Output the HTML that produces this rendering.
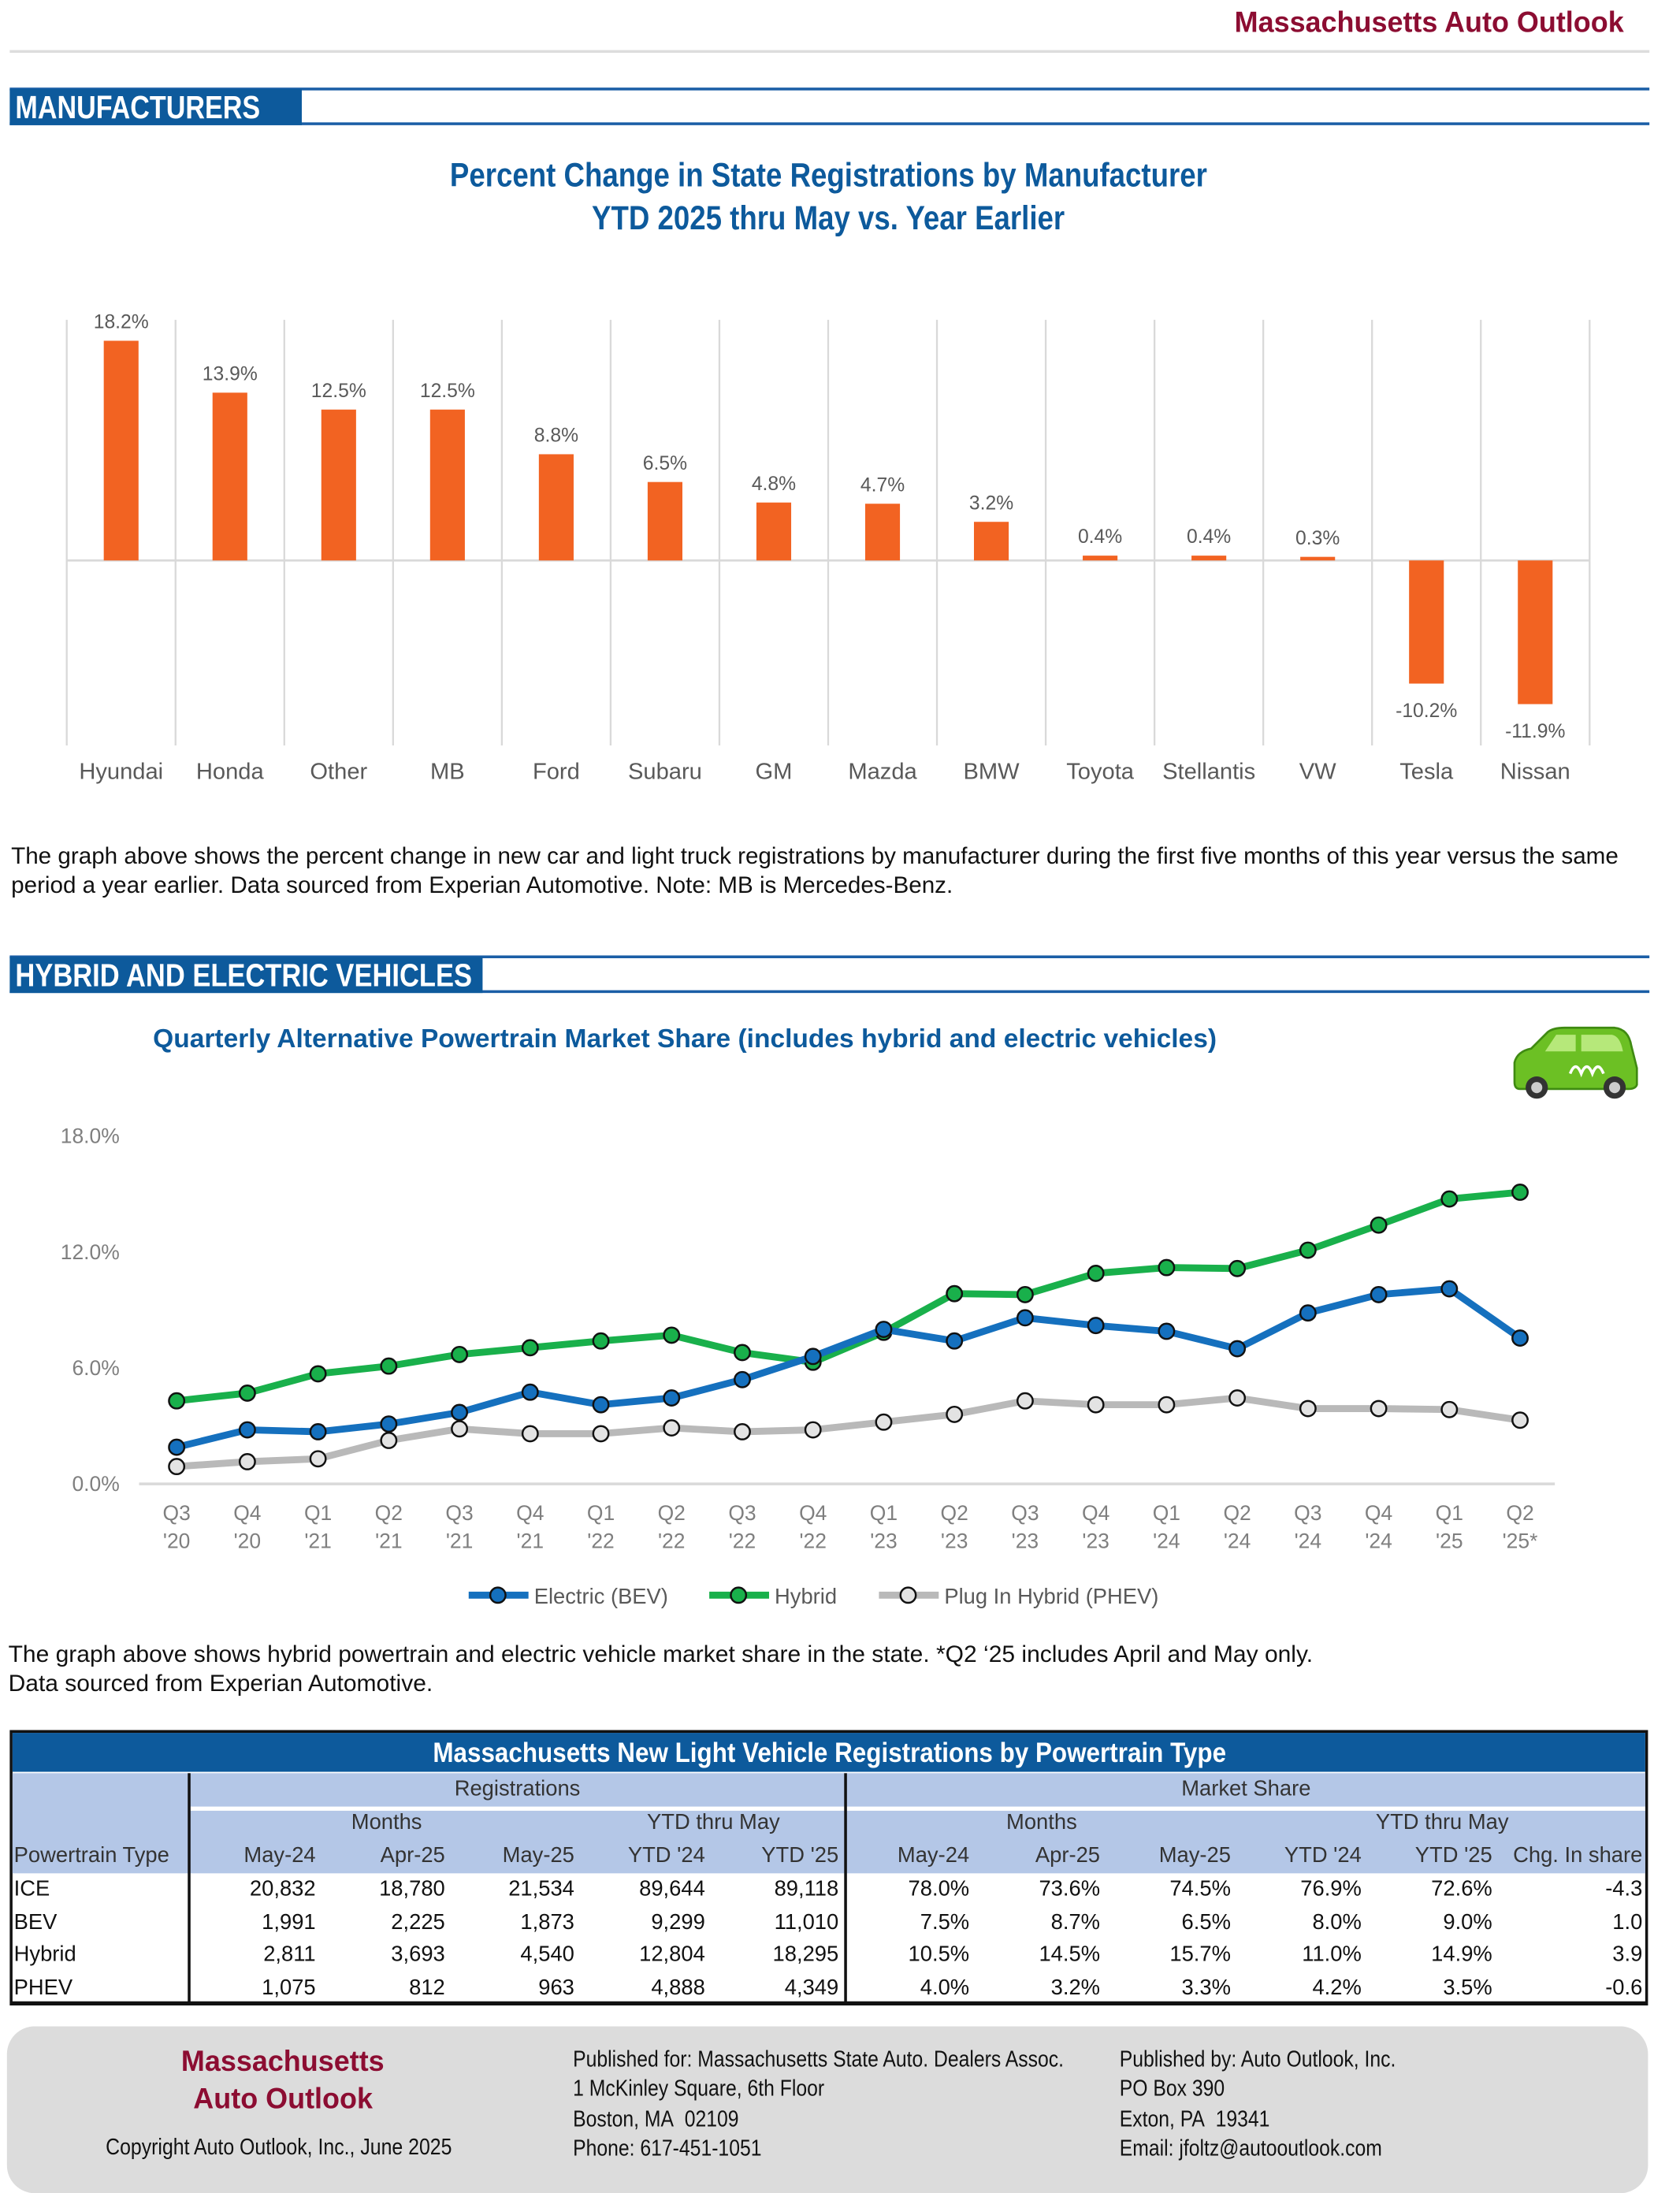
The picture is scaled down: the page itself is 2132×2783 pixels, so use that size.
<!DOCTYPE html>
<html><head><meta charset="utf-8">
<style>
html,body{margin:0;padding:0;background:#fff;overflow:hidden;}
body{width:2132px;height:2721px;}
#wrap{position:absolute;left:0;top:0;width:1208px;height:1542px;transform:scale(1.76490);transform-origin:0 0;font-family:"Liberation Sans",sans-serif;}
.abs{position:absolute;}
.cond{font-family:"Liberation Sans",sans-serif;font-weight:bold;white-space:nowrap;}
.sx{display:inline-block;transform:scaleX(0.78);transform-origin:0 0;white-space:nowrap;}
.sxc{display:inline-block;transform:scaleX(0.78);transform-origin:50% 0;white-space:nowrap;}
.sxr{display:inline-block;transform:scaleX(0.78);transform-origin:100% 0;white-space:nowrap;}
.p{font-size:15.3px;color:#111;line-height:21px;}
</style></head><body>
<div id="wrap">
<div class="abs cond" style="right:40px;top:5px;font-size:21px;color:#8c0d32;"><span class="sxr" style="transform:scaleX(0.97);">Massachusetts Auto Outlook</span></div>
<div class="abs" style="left:7px;top:36px;width:1179px;height:2px;background:#ddd;"></div>

<div class="abs" style="left:7px;top:63px;width:1179px;height:2px;background:#1a5ea6;"></div>
<div class="abs" style="left:7px;top:88px;width:1179px;height:2px;background:#1a5ea6;"></div>
<div class="abs cond" style="left:7px;top:64px;width:210px;height:26px;background:#0d5a9c;color:#fff;font-size:23px;line-height:27px;padding-left:4px;box-sizing:border-box;overflow:hidden;"><span class="sx" style="transform:scaleX(0.84);">MANUFACTURERS</span></div>

<div class="abs cond" style="left:0;top:111px;width:1192px;text-align:center;font-size:24px;line-height:31px;color:#0d5a9c;"><span class="sxc" style="transform:scaleX(0.865);">Percent Change in State Registrations by Manufacturer</span><br><span class="sxc" style="transform:scaleX(0.865);">YTD 2025 thru May vs. Year Earlier</span></div>

<svg class="abs" id="bar" style="left:0;top:0;" width="1208" height="600"></svg>

<div class="abs p" style="left:8px;top:605px;width:1195px;font-size:16.8px;">The graph above shows the percent change in new car and light truck registrations by manufacturer during the first five months of this year versus the same period a year earlier. Data sourced from Experian Automotive. Note: MB is Mercedes-Benz.</div>

<div class="abs" style="left:7px;top:687px;width:1179px;height:2px;background:#1a5ea6;"></div>
<div class="abs" style="left:7px;top:712px;width:1179px;height:2px;background:#1a5ea6;"></div>
<div class="abs cond" style="left:7px;top:688px;width:340px;height:26px;background:#0d5a9c;color:#fff;font-size:23px;line-height:27px;padding-left:4px;box-sizing:border-box;overflow:hidden;"><span class="sx" style="transform:scaleX(0.85);">HYBRID AND ELECTRIC VEHICLES</span></div>

<div class="abs cond" style="left:110px;top:737px;font-size:19px;color:#0d5a9c;"><span class="sx" style="transform:scaleX(1.0);">Quarterly Alternative Powertrain Market Share (includes hybrid and electric vehicles)</span></div>

<svg class="abs" style="left:1083px;top:738px;" width="97" height="54" viewBox="0 0 97 54">
<path d="M6 40 L6 26 Q8 18 18 16 L30 4 Q34 1 42 1 L78 1 Q88 2 90 14 L94 30 L94 42 Q93 45 88 45 L10 45 Q6 45 6 40Z" fill="#6cc024" stroke="#3f8a12" stroke-width="1.5"/>
<path d="M36 6 L50 6 L50 18 L28 18Z M54 6 L76 6 Q82 7 84 18 L54 18Z" fill="#b6e87a"/>
<path d="M46 34 q4 -10 8 0 q4 -10 8 0 q4 -10 8 0" fill="none" stroke="#fff" stroke-width="2"/>
<circle cx="22" cy="44" r="8" fill="#333"/><circle cx="22" cy="44" r="4" fill="#ccc"/>
<circle cx="78" cy="44" r="8" fill="#333"/><circle cx="78" cy="44" r="4" fill="#ccc"/>
</svg>

<svg class="abs" id="line" style="left:0;top:0;" width="1208" height="1170"></svg>

<div class="abs p" style="left:6px;top:1179px;font-size:17px;">The graph above shows hybrid powertrain and electric vehicle market share in the state. *Q2 ‘25 includes April and May only.<br>Data sourced from Experian Automotive.</div>

<div class="abs" style="left:7px;top:1244px;width:1178px;height:198px;border:2px solid #111;border-bottom:3px solid #111;box-sizing:border-box;">
<div class="abs cond" style="left:0;top:0;width:1174px;height:28px;background:#0d5a9c;color:#fff;text-align:center;font-size:20px;line-height:30px;"><span class="sxc" style="transform:scaleX(0.89);">Massachusetts New Light Vehicle Registrations by Powertrain Type</span></div>
<div class="abs" style="left:0;top:29px;width:1174px;height:72px;background:#b4c7e7;"></div>
<div class="abs" style="left:128px;top:53px;width:1046px;height:3px;background:#fff;"></div>
<div class="abs" style="left:126px;top:29px;width:2px;height:165px;background:#111;"></div>
<div class="abs" style="left:598px;top:29px;width:2px;height:165px;background:#111;"></div>
<div id="tbl"></div>
</div>

<div class="abs" style="left:5px;top:1457px;width:1180px;height:120px;background:#dcdcdc;border-radius:20px;"></div>
<div class="abs cond" style="left:103px;top:1469px;width:200px;text-align:center;font-size:21px;line-height:27px;color:#8c0d32;"><span class="sxc" style="transform:scaleX(0.97);">Massachusetts</span><br><span class="sxc" style="transform:scaleX(0.97);">Auto Outlook</span></div>
<div class="abs" style="left:76px;top:1536px;font-size:16px;color:#111;"><span class="sx" style="transform:scaleX(0.88);">Copyright Auto Outlook, Inc., June 2025</span></div>
<div class="abs" style="left:412px;top:1471px;font-size:16px;line-height:21.3px;color:#111;"><span class="sx" style="transform:scaleX(0.876);">Published for: Massachusetts State Auto. Dealers Assoc.<br>1 McKinley Square, 6th Floor<br>Boston, MA&nbsp; 02109<br>Phone: 617-451-1051</span></div>
<div class="abs" style="left:805px;top:1471px;font-size:16px;line-height:21.3px;color:#111;"><span class="sx" style="transform:scaleX(0.876);">Published by: Auto Outlook, Inc.<br>PO Box 390<br>Exton, PA&nbsp; 19341<br>Email: jfoltz@autooutlook.com</span></div>
</div>

<script>
const NS='http://www.w3.org/2000/svg';
function mk(p,t,a){const e=document.createElementNS(NS,t);for(const k in a)e.setAttribute(k,a[k]);p.appendChild(e);return e;}

// ---- bar chart data ----
const barCategories=['Hyundai','Honda','Other','MB','Ford','Subaru','GM','Mazda','BMW','Toyota','Stellantis','VW','Tesla','Nissan'];
const barValues=[18.2,13.9,12.5,12.5,8.8,6.5,4.8,4.7,3.2,0.4,0.4,0.3,-10.2,-11.9];
const barLabels=['18.2%','13.9%','12.5%','12.5%','8.8%','6.5%','4.8%','4.7%','3.2%','0.4%','0.4%','0.3%','-10.2%','-11.9%'];

const bar=document.getElementById('bar');
const bx0=48,bx1=1143,bZero=403,bUnit=8.68;
const bw=(bx1-bx0)/barCategories.length;
const bxs=i=>bx0+bw*(i+0.5);
const bys=v=>bZero-v*bUnit;
for(let i=0;i<=barCategories.length;i++){
  const g=mk(bar,'line',{x1:bx0+bw*i,x2:bx0+bw*i,y1:230,y2:536,stroke:'#d9d9d9','stroke-width':1.3});
  
  
}
const zl=mk(bar,'line',{x1:bx0,x2:bx1,y1:bZero,y2:bZero,stroke:'#d9d9d9','stroke-width':1.5});


barValues.forEach((v,i)=>{
  const y=Math.min(bys(v),bZero),h=Math.abs(bys(v)-bZero);
  const r=mk(bar,'rect',{x:bxs(i)-12.5,y:y,width:25,height:h,fill:'#f26322'});
  
  
  const ly=v>=0?bys(v)-9:bys(v)+24;
  const t=mk(bar,'text',{x:bxs(i),y:ly,'text-anchor':'middle','font-size':14,fill:'#595959','font-family':'Liberation Sans, sans-serif'});
  t.textContent=barLabels[i];
  
  
  const c=mk(bar,'text',{x:bxs(i),y:560,'text-anchor':'middle','font-size':16.5,fill:'#595959','font-family':'Liberation Sans, sans-serif'});
  c.textContent=barCategories[i];
  
  
});

// ---- line chart data ----
const quarters=['Q3','Q4','Q1','Q2','Q3','Q4','Q1','Q2','Q3','Q4','Q1','Q2','Q3','Q4','Q1','Q2','Q3','Q4','Q1','Q2'];
const years=["'20","'20","'21","'21","'21","'21","'22","'22","'22","'22","'23","'23","'23","'23","'24","'24","'24","'24","'25","'25*"];
const hybridValues=[4.3,4.7,5.7,6.1,6.7,7.05,7.4,7.7,6.8,6.3,7.85,9.85,9.8,10.9,11.2,11.15,12.1,13.4,14.75,15.1];
const bevValues=[1.9,2.8,2.7,3.1,3.7,4.75,4.1,4.45,5.4,6.6,8.0,7.4,8.6,8.2,7.9,7.0,8.85,9.8,10.1,7.55];
const phevValues=[0.9,1.15,1.3,2.25,2.85,2.6,2.6,2.9,2.7,2.8,3.2,3.6,4.3,4.1,4.1,4.45,3.9,3.9,3.85,3.3];
const yTicks=[0,6,12,18];
const yTickLabels=['0.0%','6.0%','12.0%','18.0%'];

const ln=document.getElementById('line');
const lx0=127,lstep=(1093-127)/19,ly0=1067,lunit=13.89;
const lxs=i=>lx0+lstep*i;
const lys=v=>ly0-v*lunit;
yTicks.forEach((t,i)=>{
  const e=mk(ln,'text',{x:86,y:lys(t)+5,'text-anchor':'end','font-size':15,fill:'#7f7f7f','font-family':'Liberation Sans, sans-serif'});
  e.textContent=yTickLabels[i];
  
  
});
const ax=mk(ln,'line',{x1:100,x2:1118,y1:ly0,y2:ly0,stroke:'#d9d9d9','stroke-width':2});


quarters.forEach((q,i)=>{
  const e=mk(ln,'text',{x:lxs(i),y:1093,'text-anchor':'middle','font-size':15,fill:'#7f7f7f','font-family':'Liberation Sans, sans-serif'});
  e.textContent=q;
  
  
  const f=mk(ln,'text',{x:lxs(i),y:1113,'text-anchor':'middle','font-size':15,fill:'#7f7f7f','font-family':'Liberation Sans, sans-serif'});
  f.textContent=years[i];
  
  
});
function series(vals,col,fill,name){
  const pl=mk(ln,'polyline',{points:vals.map((v,i)=>lxs(i)+','+lys(v)).join(' '),fill:'none',stroke:col,'stroke-width':5,'stroke-linejoin':'round'});
  
  
  vals.forEach((v,i)=>{
    const c=mk(ln,'circle',{cx:lxs(i),cy:lys(v),r:5.5,fill:fill,stroke:'#111','stroke-width':1.4});
    
    
  });
}
series(phevValues,'#b9b9b9','#e3e3e3','phev');
series(hybridValues,'#19b04b','#19b04b','hybrid');
series(bevValues,'#1570be','#1570be','bev');
[['Electric (BEV)','#1570be','#1570be',337,'legend-bev'],['Hybrid','#19b04b','#19b04b',510,'legend-hybrid'],['Plug In Hybrid (PHEV)','#b9b9b9','#e3e3e3',632,'legend-phev']].forEach(L=>{
  const g=mk(ln,'g',{});
  
  
  mk(g,'line',{x1:L[3],x2:L[3]+43,y1:1147,y2:1147,stroke:L[1],'stroke-width':5});
  mk(g,'circle',{cx:L[3]+21,cy:1147,r:5.5,fill:L[2],stroke:'#111','stroke-width':1.4});
  const t=mk(g,'text',{x:L[3]+47,y:1153,'font-size':15.5,fill:'#595959','font-family':'Liberation Sans, sans-serif'});
  t.textContent=L[0];
});

// ---- table ----
const tbl=document.getElementById('tbl');
function txt(s,x,y,align,extra){
  const d=document.createElement('div');
  d.className='abs';
  
  
  d.textContent=s;
  let st='top:'+y+'px;font-size:15.5px;color:#111;white-space:nowrap;';
  if(align==='r') st+='right:'+(1174-x)+'px;';
  else if(align==='c') st+='left:'+(x-100)+'px;width:200px;text-align:center;';
  else st+='left:'+x+'px;';
  d.setAttribute('style',st+(extra||''));
  tbl.appendChild(d);
}
txt('Registrations',363,32,'c','color:#333;');
txt('Market Share',887,32,'c','color:#333;');
txt('Months',269,56,'c','color:#333;');
txt('YTD thru May',504,56,'c','color:#333;');
txt('Months',740,56,'c','color:#333;');
txt('YTD thru May',1028,56,'c','color:#333;');
txt('Powertrain Type',1,80,'l','color:#333;');
const colRight=[218,311,404,498,594,688,782,876,970,1064,1172];
const colHead=['May-24','Apr-25','May-25',"YTD '24","YTD '25",'May-24','Apr-25','May-25',"YTD '24","YTD '25",'Chg. In share'];
colHead.forEach((h,i)=>txt(h,colRight[i],80,'r','color:#333;'));
const rows=[
 ['ICE','20,832','18,780','21,534','89,644','89,118','78.0%','73.6%','74.5%','76.9%','72.6%','-4.3'],
 ['BEV','1,991','2,225','1,873','9,299','11,010','7.5%','8.7%','6.5%','8.0%','9.0%','1.0'],
 ['Hybrid','2,811','3,693','4,540','12,804','18,295','10.5%','14.5%','15.7%','11.0%','14.9%','3.9'],
 ['PHEV','1,075','812','963','4,888','4,349','4.0%','3.2%','3.3%','4.2%','3.5%','-0.6']];
rows.forEach((r,j)=>{
  const y=104+j*23.7;
  txt(r[0],1,y,'l');
  for(let i=1;i<r.length;i++) txt(r[i],colRight[i-1],y,'r');
});
</script>
</body></html>
